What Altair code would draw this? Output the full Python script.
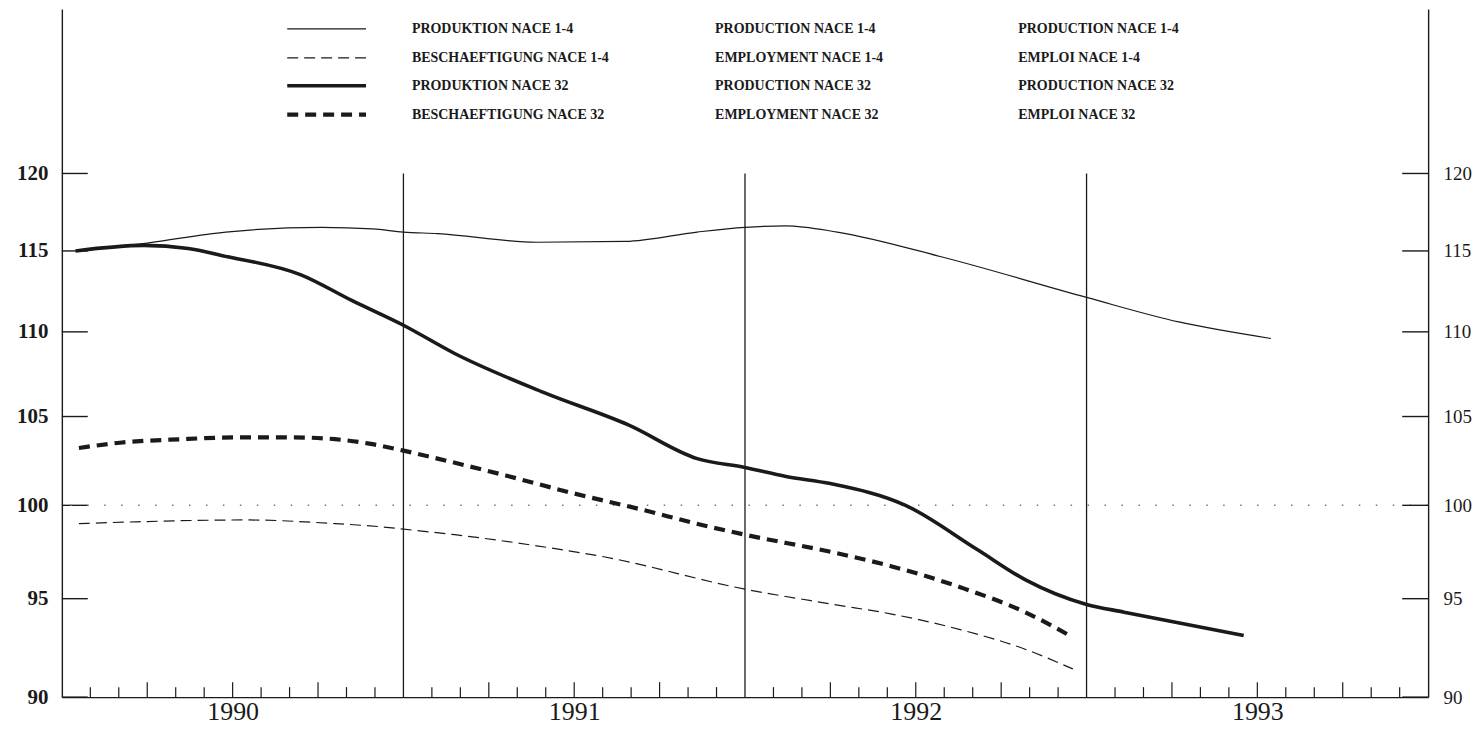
import altair as alt
import pandas as pd

# ---- data (x in fractional years, index values) ----
prod14_x = [1990.04, 1990.25, 1990.48, 1990.76, 1990.91, 1991.00, 1991.10, 1991.39, 1991.65,
            1991.86, 1992.00, 1992.12, 1992.27, 1992.58, 1993.00, 1993.27, 1993.54]
prod14_v = [115.0, 115.5, 116.2, 116.5, 116.4, 116.2, 116.1, 115.55, 115.6,
            116.2, 116.5, 116.6, 116.2, 114.6, 112.1, 110.6, 109.6]

besch14_x = [1990.05, 1990.22, 1990.54, 1990.80, 1990.95, 1991.00, 1991.15, 1991.39, 1991.59,
             1992.00, 1992.26, 1992.43, 1992.63, 1992.82, 1992.96]
besch14_v = [99.0, 99.1, 99.2, 99.0, 98.8, 98.7, 98.4, 97.8, 97.2,
             95.5, 94.7, 94.2, 93.4, 92.4, 91.4]

prod32_x = [1990.04, 1990.24, 1990.37, 1990.47, 1990.70, 1990.85, 1991.00, 1991.15, 1991.41,
            1991.66, 1991.86, 1992.00, 1992.12, 1992.25, 1992.47, 1992.68, 1992.82, 1993.00,
            1993.11, 1993.46]
prod32_v = [115.0, 115.35, 115.15, 114.7, 113.5, 111.9, 110.4, 108.7, 106.4,
            104.5, 102.6, 102.1, 101.6, 101.2, 100.0, 97.6, 96.0, 94.7,
            94.3, 93.1]

besch32_x = [1990.05, 1990.17, 1990.35, 1990.51, 1990.68, 1990.80, 1990.90, 1991.00, 1991.10,
             1991.30, 1991.49, 1991.69, 1991.88, 1992.00, 1992.27, 1992.43, 1992.63, 1992.82,
             1992.95]
besch32_v = [103.2, 103.5, 103.7, 103.8, 103.8, 103.7, 103.45, 103.05, 102.6,
             101.65, 100.7, 99.8, 98.9, 98.4, 97.4, 96.7, 95.6, 94.3,
             93.1]

y_ticks = [90, 95, 100, 105, 110, 115, 120]
year_label_pos = [1990.5, 1991.5, 1992.5, 1993.5]
year_lines = [1991, 1992, 1993]
years = [1990, 1991, 1992, 1993]

legend_de = ["PRODUKTION NACE 1-4", "BESCHAEFTIGUNG NACE 1-4", "PRODUKTION NACE 32", "BESCHAEFTIGUNG NACE 32"]
legend_en = ["PRODUCTION NACE 1-4", "EMPLOYMENT NACE 1-4", "PRODUCTION NACE 32", "EMPLOYMENT NACE 32"]
legend_fr = ["PRODUCTION NACE 1-4", "EMPLOI NACE 1-4", "PRODUCTION NACE 32", "EMPLOI NACE 32"]

# ---- layout ----
W, H = 1370, 690
Y_DOMAIN = [90, 131.35]
X_DOMAIN = [1990, 1994]
INK = "#1a1a1a"
FONT = "Liberation Serif"

xs = alt.Scale(domain=X_DOMAIN, nice=False, zero=False)
ys = alt.Scale(type="log", domain=Y_DOMAIN, nice=False)

X_AXIS = alt.Axis(values=year_label_pos, labelExpr="floor(datum.value)", ticks=False, tickSize=0,
                  grid=False, domain=True, domainColor=INK, domainWidth=1.4,
                  labelFont=FONT, labelFontSize=26, labelColor=INK, labelPadding=1,
                  labelFlush=False, title=None)


def X(field):
    return alt.X(field, scale=xs, title=None, axis=X_AXIS)


series = [
    (prod14_x, prod14_v, 1.2, None),
    (besch14_x, besch14_v, 1.2, [11, 6]),
    (prod32_x, prod32_v, 3.6, None),
    (besch32_x, besch32_v, 4.2, [11, 7]),
]

layers = []

# year boundary rules, carries left axis
df_years = pd.DataFrame({"x": year_lines, "lo": [90] * 3, "hi": [120] * 3})
base = alt.Chart(df_years).mark_rule(color=INK, strokeWidth=1.3).encode(
    x=X("x:Q"),
    y=alt.Y("lo:Q", scale=ys, title=None,
            axis=alt.Axis(values=y_ticks, orient="left", ticks=False, tickSize=0, grid=False,
                          domain=True, domainColor=INK, domainWidth=1.4,
                          labelFont=FONT, labelFontSize=21, labelFontWeight="bold", labelColor=INK,
                          labelPadding=14)),
    y2="hi:Q",
)
layers.append(base)

# left inward ticks
df_yt = pd.DataFrame({"v": y_ticks})
layers.append(
    alt.Chart(df_yt).mark_rule(color=INK, strokeWidth=1.4).encode(
        x=alt.value(0), x2=alt.value(26),
        y=alt.Y("v:Q", scale=ys, axis=None),
    )
)

# dotted line at 100
layers.append(
    alt.Chart(pd.DataFrame({"v": [100]})).mark_rule(
        color="#777777", strokeWidth=1.5, strokeDash=[1.5, 15.5]).encode(
        y=alt.Y("v:Q", scale=ys, axis=None),
    )
)

# monthly ticks along bottom
months = [y + m / 12 for y in years for m in range(1, 12)]
quarter = [y + m / 12 for y in years for m in (3, 6, 9)]
monthly = [m for m in months if m not in quarter]
for vals, ln in ((monthly, 10), (quarter, 15)):
    layers.append(
        alt.Chart(pd.DataFrame({"x": vals})).mark_rule(color=INK, strokeWidth=1.2).encode(
            x=X("x:Q"),
            y=alt.value(H), y2=alt.value(H - ln),
        )
    )

# data lines
for xv, vv, sw, dash in series:
    kw = dict(color=INK, strokeWidth=sw, interpolate="monotone", strokeCap="butt")
    if dash:
        kw["strokeDash"] = dash
    layers.append(
        alt.Chart(pd.DataFrame({"x": xv, "v": vv})).mark_line(**kw).encode(
            x=X("x:Q"),
            y=alt.Y("v:Q", scale=ys, axis=None),
        )
    )

# legend (inside plot, top)
row_y = [20, 49, 77, 106]
for i, (xv, vv, sw, dash) in enumerate(series):
    kw = dict(color=INK, strokeWidth=sw, strokeCap="butt")
    if dash:
        kw["strokeDash"] = dash
    layers.append(
        alt.Chart(pd.DataFrame({"a": [0]})).mark_rule(**kw).encode(
            x=alt.value(226), x2=alt.value(305), y=alt.value(row_y[i])
        )
    )
    for tx, labels in ((351, legend_de), (655, legend_en), (959, legend_fr)):
        layers.append(
            alt.Chart(pd.DataFrame({"a": [0]})).mark_text(
                align="left", baseline="middle", font=FONT, fontSize=14, fontWeight="bold", color=INK
            ).encode(x=alt.value(tx), y=alt.value(row_y[i]), text=alt.value(labels[i]))
        )

# right axis with inward ticks
layers.append(
    alt.Chart(df_yt).mark_rule(color=INK, strokeWidth=1.4).encode(
        x=alt.value(W - 26), x2=alt.value(W),
        y=alt.Y("v:Q", scale=ys, title=None,
                axis=alt.Axis(values=y_ticks, orient="right", ticks=False, tickSize=0, grid=False,
                              domain=True, domainColor=INK, domainWidth=1.4,
                              labelFont=FONT, labelFontSize=19, labelColor=INK, labelPadding=15)),
    )
)

chart = alt.layer(*layers).resolve_axis(y="independent").resolve_scale(y="shared").properties(
    width=W, height=H,
    autosize=alt.AutoSizeParams(type="none"),
    padding={"left": 54, "top": 0, "right": 46, "bottom": 29},
    background="white",
).configure_view(stroke=None)

chart.save("out.html", embed_options={"renderer": "svg", "actions": False})
